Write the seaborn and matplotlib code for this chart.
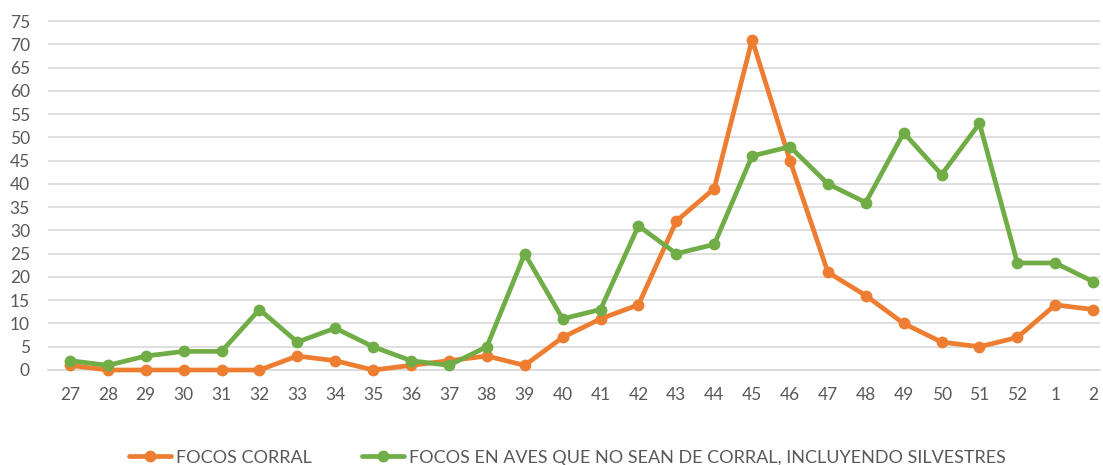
import matplotlib
matplotlib.use("Agg")
import matplotlib.pyplot as plt
import seaborn as sns
import pandas as pd
import numpy as np

weeks = ["27", "28", "29", "30", "31", "32", "33", "34", "35", "36", "37", "38", "39", "40",
         "41", "42", "43", "44", "45", "46", "47", "48", "49", "50", "51", "52", "1", "2"]
focos_corral = [1, 0, 0, 0, 0, 0, 3, 2, 0, 1, 2, 3, 1, 7,
                11, 14, 32, 39, 71, 45, 21, 16, 10, 6, 5, 7, 14, 13]
focos_no_corral = [2, 1, 3, 4, 4, 13, 6, 9, 5, 2, 1, 5, 25, 11,
                   13, 31, 25, 27, 46, 48, 40, 36, 51, 42, 53, 23, 23, 19]
series_names = ["FOCOS CORRAL", "FOCOS EN AVES QUE NO SEAN DE CORRAL, INCLUYENDO SILVESTRES"]
colors = ["#ED7D31", "#70AD47"]
yticks = list(range(0, 80, 5))

sns.set_theme(style="white")
plt.rcParams['font.family'] = ['Lato', 'DejaVu Sans']

fig = plt.figure(figsize=(11.03, 4.65), dpi=100)
ax = fig.add_axes([48/1103, 1 - 370/465, (1100-48)/1103, (370-15)/465])

idx = np.arange(len(weeks))
df = pd.DataFrame({
    "x": np.concatenate([idx, idx]),
    "y": focos_corral + focos_no_corral,
    "serie": [series_names[0]] * len(weeks) + [series_names[1]] * len(weeks),
})

sns.lineplot(data=df, x="x", y="y", hue="serie", palette=colors, marker="o",
             markersize=8.5, markeredgewidth=0, linewidth=3.4, ax=ax, clip_on=False,
             zorder=3)

ax.set_xlim(-0.58, 27.18)
ax.set_ylim(0, 76.3)
ax.set_xticks(idx)
ax.set_xticklabels(weeks)
ax.set_yticks(yticks)
ax.set_yticklabels([str(v) for v in yticks])
ax.tick_params(axis='both', labelsize=12.5, colors="#595959", length=0)
ax.tick_params(axis='x', pad=12)
ax.tick_params(axis='y', pad=13)
ax.grid(axis='y', color="#D9D9D9", linewidth=1.2, zorder=0)
ax.grid(axis='x', visible=False)
for s in ["top", "right", "left"]:
    ax.spines[s].set_visible(False)
ax.spines["bottom"].set_color("#D9D9D9")
ax.spines["bottom"].set_linewidth(1.2)
ax.set_xlabel("")
ax.set_ylabel("")

handles, labels = ax.get_legend_handles_labels()
ax.legend(handles, labels, loc="lower center", bbox_to_anchor=(0.494, -0.315),
          ncol=2, frameon=False, fontsize=13, labelcolor="#595959",
          handlelength=2.3, columnspacing=2.8, handletextpad=0.3)
ax.set_axisbelow(True)

fig.savefig("out.png", dpi=100)
